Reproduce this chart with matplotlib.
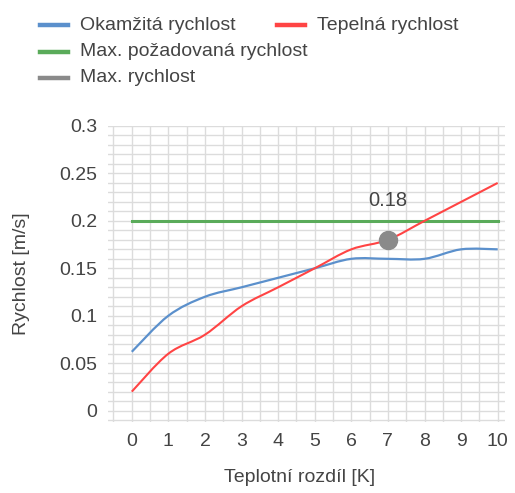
import matplotlib.pyplot as plt
from matplotlib.path import Path
from matplotlib.patches import PathPatch
from matplotlib.lines import Line2D
from matplotlib.ticker import MultipleLocator

plt.rcParams['font.family'] = ['Liberation Sans', 'DejaVu Sans']

# Daten
teplota = [0, 1, 2, 3, 4, 5, 6, 7, 8, 9, 10]
okamzita = [0.062, 0.10, 0.12, 0.13, 0.14, 0.15, 0.16, 0.16, 0.16, 0.17, 0.17]
tepelna = [0.02, 0.06, 0.08, 0.11, 0.13, 0.15, 0.17, 0.18, 0.20, 0.22, 0.24]
max_pozadovana = [0.2] * len(teplota)
max_bod_x = [7]
max_bod_y = [0.18]

modra = '#5b90cc'
cervena = '#ff4444'
zelena = '#5aab5a'
seda = '#8a8a8a'
text_barva = '#444444'
W, H = 515, 493
fs = 14


def hladka_cesta(xs, ys):
    # Catmull-Rom als Bezier-Kurve (nur Darstellung, keine neuen Datenpunkte)
    verts = [(xs[0], ys[0])]
    codes = [Path.MOVETO]
    n = len(xs)
    for i in range(n - 1):
        x0, y0 = xs[max(i - 1, 0)], ys[max(i - 1, 0)]
        x1, y1 = xs[i], ys[i]
        x2, y2 = xs[i + 1], ys[i + 1]
        x3, y3 = xs[min(i + 2, n - 1)], ys[min(i + 2, n - 1)]
        c1 = (x1 + (x2 - x0) / 6, y1 + (y2 - y0) / 6)
        c2 = (x2 - (x3 - x1) / 6, y2 - (y3 - y1) / 6)
        verts += [c1, c2, (x2, y2)]
        codes += [Path.CURVE4] * 3
    return Path(verts, codes)


fig = plt.figure(figsize=(W / 100, H / 100), dpi=100)
ax = fig.add_axes([108 / W, 1 - 422 / H, 397 / W, 296 / H])

ax.plot(teplota, max_pozadovana, color=zelena, lw=2.2, zorder=3)
ax.add_patch(PathPatch(hladka_cesta(teplota, okamzita), fill=False,
                       edgecolor=modra, lw=1.6, zorder=4))
ax.add_patch(PathPatch(hladka_cesta(teplota, tepelna), fill=False,
                       edgecolor=cervena, lw=1.5, zorder=5))
ax.plot(max_bod_x, max_bod_y, 'o', color=seda, markersize=13, zorder=6)
ax.text(max_bod_x[0], max_bod_y[0] + 0.031, '0.18', ha='center',
        va='bottom', fontsize=14.5, color=text_barva)

ax.set_xlim(-0.65, 10.2)
ax.set_ylim(-0.012, 0.3)
ax.set_xticks(teplota)
ax.set_yticks([0, 0.05, 0.1, 0.15, 0.2, 0.25, 0.3])
ax.set_yticklabels(['0', '0.05', '0.1', '0.15', '0.2', '0.25', '0.3'])
ax.xaxis.set_minor_locator(MultipleLocator(0.5))
ax.yaxis.set_minor_locator(MultipleLocator(0.01))
ax.grid(True, which='both', color='#dcdcdc', lw=1)
ax.set_axisbelow(True)
for s in ax.spines.values():
    s.set_visible(False)
ax.tick_params(which='both', length=0, labelsize=fs, colors=text_barva, pad=8)

ax.set_xlabel('Teplotní rozdíl [K]', fontsize=fs, color=text_barva, va='center')
ax.set_ylabel('Rychlost [m/s]', fontsize=fs, color=text_barva, va='center')
ax.xaxis.set_label_coords((300 - 108) / 397, (422 - 478) / 296)
ax.yaxis.set_label_coords((22 - 108) / 397, 0.5)

# Legende (manuell, fließendes Layout wie im Original)
legenda = [
    (40, 25, modra, 'Okamžitá rychlost'),
    (277, 25, cervena, 'Tepelná rychlost'),
    (40, 52, zelena, 'Max. požadovaná rychlost'),
    (40, 78, seda, 'Max. rychlost'),
]
for lx, ly, barva, popis in legenda:
    fig.add_artist(Line2D([lx / W, (lx + 28) / W], [1 - ly / H, 1 - ly / H],
                          color=barva, lw=3.2, transform=fig.transFigure))
    fig.text((lx + 40) / W, 1 - ly / H, popis, ha='left', va='center',
             fontsize=fs, color=text_barva)

fig.savefig('out.png', dpi=100)
